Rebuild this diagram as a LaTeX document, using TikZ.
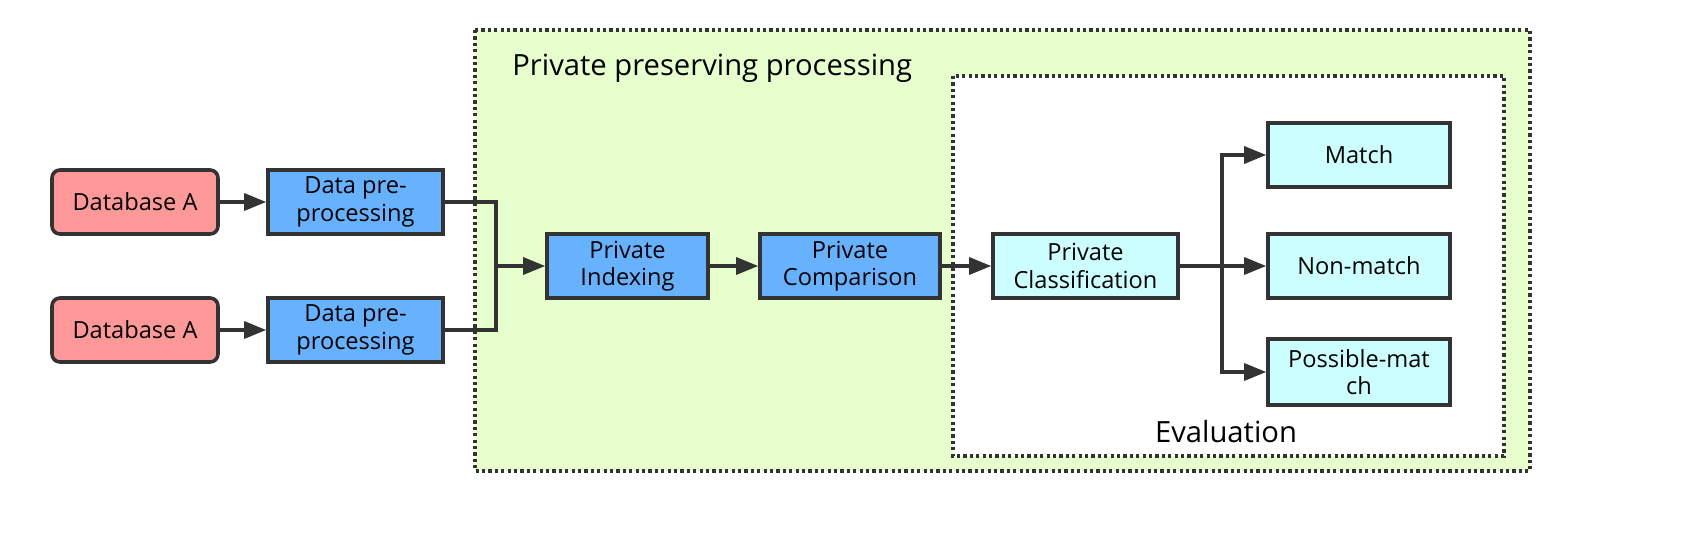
\documentclass[tikz,border=0pt]{standalone}
\usepackage{fontspec}
\setmainfont{Open Sans}
\usetikzlibrary{arrows.meta}
\definecolor{lc}{HTML}{333333}
\definecolor{dbfill}{HTML}{FF9999}
\definecolor{bluefill}{HTML}{66B2FF}
\definecolor{cyanfill}{HTML}{CCFFFF}
\definecolor{greenfill}{HTML}{E6FFCC}
\begin{document}
\begin{tikzpicture}[x=0.5pt,y=-0.5pt,
  box/.style={draw=lc,line width=1.8pt,minimum height=32pt,align=center,
    font=\fontsize{11.8}{13.8}\selectfont,inner sep=0pt,text=black},
  dbbox/.style={box,fill=dbfill,rounded corners=4pt,minimum width=83pt},
  bluebox/.style={box,fill=bluefill},
  cyanbox/.style={box,fill=cyanfill},
  frame/.style={draw=lc,line width=1.7pt,dash pattern=on 1.6pt off 1.6pt},
  conn/.style={draw=lc,line width=1.6pt},
  arr/.style={conn,-{Triangle[length=11pt,width=8.5pt]}},
  title/.style={font=\fontsize{14.6}{17}\selectfont,inner sep=0pt,text=black}]
\useasboundingbox (0,0) rectangle (1702,534);
% containers
\path[frame,fill=greenfill] (475,30) rectangle (1530,471);
\path[frame,fill=white] (953,76) rectangle (1504,456);
\node[title,anchor=west] (ttl) at (512,68) {Private preserving processing};
\node[title] (evl) at (1226,432) {Evaluation};
% nodes
\node[dbbox] (db1) at (135,202) {Database A};
\node[dbbox] (db2) at (135,330) {Database A};
\node[bluebox,minimum width=87.5pt] (dp1) at (355.5,202) {Data pre-\\processing};
\node[bluebox,minimum width=87.5pt] (dp2) at (355.5,330) {Data pre-\\processing};
\node[bluebox,minimum width=80.5pt] (pi) at (627.5,266) {Private\\Indexing};
\node[bluebox,minimum width=90pt] (pc) at (850,266) {Private\\Comparison};
\node[cyanbox,minimum width=92.5pt] (pcl) at (1085.5,266) {Private\\Classification};
\node[cyanbox,minimum width=91pt] (m) at (1359,155) {Match};
\node[cyanbox,minimum width=91pt] (nm) at (1359,266) {Non-match};
\node[cyanbox,minimum width=91pt,minimum height=33pt] (pm) at (1359,372) {Possible-mat\\ch};
% connectors
\coordinate (j1) at (496,266);
\coordinate (j2) at (1222,266);
\draw[arr] (db1) -- (dp1);
\draw[arr] (db2) -- (dp2);
\draw[conn] (dp1.east) -| (j1);
\draw[conn] (dp2.east) -| (j1);
\draw[arr] (j1) -- (pi);
\draw[arr] (pi) -- (pc);
\draw[arr] (pc) -- (pcl);
\draw[conn] (pcl.east) -- (j2);
\draw[arr] (j2) |- (m);
\draw[arr] (j2) -- (nm);
\draw[arr] (j2) |- (pm);
\end{tikzpicture}
\end{document}
